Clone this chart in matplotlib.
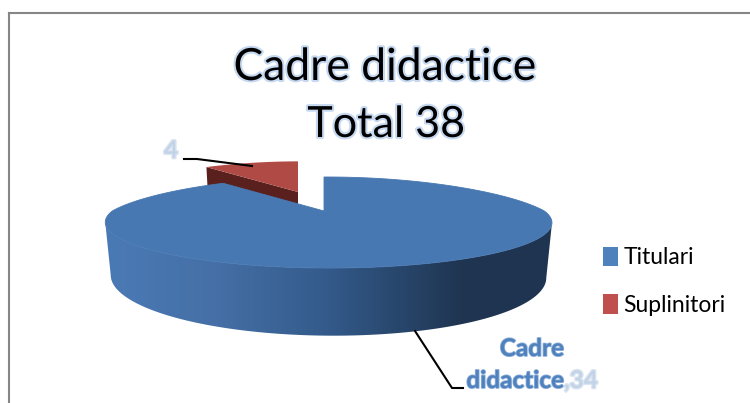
import numpy as np
import matplotlib as mpl
mpl.use('Agg')
import matplotlib.pyplot as plt
import matplotlib.patheffects as pe
from matplotlib.patches import Polygon, Patch
from matplotlib.colors import LinearSegmentedColormap

categories = ['Titulari', 'Suplinitori']
values = [34, 4]
title_lines = ['Cadre didactice', 'Total 38']
series_name = 'Cadre didactice'

plt.rcParams['font.family'] = ['Lato', 'DejaVu Sans']

# pie seen in perspective, everything in image pixels
cx, cy = 324, 211
rx, ry = 216, 42.6
k_back, k_side = 0.253, 0.02
back_squeeze = 0.1
depth = 50.5
taper = 0.025


def project(theta, r=1.0, z=0.0, dx=0, dy=0):
    # theta clockwise from 12 o'clock, z goes from 0 (top face) to 1 (bottom)
    u = r * np.sin(theta)
    v = r * np.cos(theta)
    s = 1 / (1 + k_back * v - k_side * u)
    squeeze = 1 - back_squeeze * np.clip(v, 0, None)
    x = cx + dx + rx * u * s * squeeze * (1 - taper * z)
    y = cy + dy - ry * v * s + depth * z * s
    return np.column_stack([x, y])


def rim(a, b, z=0.0, dx=0, dy=0, r=1.0):
    return project(np.linspace(a, b, 200), r, z, dx, dy)


fig = plt.figure(figsize=(7.5, 4.03), dpi=100)
ax = fig.add_axes([0, 0, 1, 1])

angles = np.concatenate([[0], np.cumsum(values) / np.sum(values) * 2 * np.pi])
blue_a, blue_b = angles[0], angles[1]
red_a, red_b = angles[1], angles[2]
red_dx, red_dy = -26, -19
red_r = 0.88

# exploded slice first, the big one goes over it
apex = project(np.array([0.0]), 0.0, 0, red_dx, red_dy)
apex_low = project(np.array([0.0]), 0.0, 0.6, red_dx, red_dy)
rim_start = project(np.array([red_a]), red_r, 0, red_dx, red_dy)
rim_low = project(np.array([red_a]), red_r, 0.6, red_dx, red_dy)
ax.add_patch(Polygon(np.vstack([apex, rim_start, rim_low, apex_low]), closed=True,
                     fc='#5a201d', ec='none', zorder=2))
ax.add_patch(Polygon(np.vstack([apex, rim(red_a, red_b, 0, red_dx, red_dy, red_r)]), closed=True,
                     fc='#b04a45', ec='none', zorder=3))

# outer wall of big slice with horizontal shading
side_t = np.arccos(-k_back)
wall = np.vstack([rim(side_t, 2 * np.pi - side_t, 0), rim(side_t, 2 * np.pi - side_t, 1)[::-1]])
wall_patch = Polygon(wall, closed=True, fc='none', ec='none', zorder=4)
ax.add_patch(wall_patch)
shade = LinearSegmentedColormap.from_list('shade', [(0, '#4a7ab5'), (0.25, '#456fa6'), (0.5, '#335a8a'),
                                                    (0.8, '#1f3551'), (1, '#1f3450')])
im = ax.imshow(np.linspace(0, 1, 256).reshape(1, -1), cmap=shade, aspect='auto',
               extent=[105, 552, 345, 215], zorder=4)
im.set_clip_path(wall_patch)

# cut face on the notch, then the top face
notch = np.vstack([project(np.array([0.0]), 0.0), project(np.array([0.0]), 1.0),
                   project(np.array([0.0]), 1.0, 0.1), project(np.array([0.0]), 0.0, 0.3)])
notch[2:, 0] += 3
ax.add_patch(Polygon(notch, closed=True, fc='#2a4a70', ec='none', zorder=4))
ax.add_patch(Polygon(np.vstack([project(np.array([0.0]), 0.0), rim(blue_a, blue_b)]), closed=True,
                     fc='#4878b2', ec='#4878b2', lw=0.6, zorder=5))

# chart frame
ax.plot([8.5, 750], [13, 13], color='#868686', lw=1.5, zorder=1)
ax.plot([8.5, 8.5], [13, 403], color='#868686', lw=1.5, zorder=1)

glow = [pe.withStroke(linewidth=3, foreground='#c6d9f0')]
ax.text(385, 80, title_lines[0], ha='center', va='baseline', fontsize=32, color='black', path_effects=glow, zorder=6)
ax.text(386, 137, title_lines[1], ha='center', va='baseline', fontsize=31, color='black', path_effects=glow, zorder=6)

# data labels with leader lines
ax.plot([184, 197, 252], [159, 159, 166], color='black', lw=1.5, zorder=6)
ax.plot([415, 452, 463], [331, 388, 388], color='black', lw=1.5, zorder=6)
pale = [pe.withStroke(linewidth=2, foreground='#dbe5f1')]
blue_edge = [pe.withStroke(linewidth=1.2, foreground='#8fb0da')]
ax.text(171, 158, str(values[1]), ha='center', va='baseline', fontsize=17.5, fontweight='bold',
        color='#c3d3e7', path_effects=pale, zorder=6)
ax.text(532, 356, series_name.split()[0], ha='center', va='baseline', fontsize=17.5, fontweight='bold',
        color='#4f81bd', path_effects=blue_edge, zorder=6)
ax.text(564, 388, series_name.split()[1], ha='right', va='baseline', fontsize=17.5, fontweight='bold',
        color='#4f81bd', path_effects=blue_edge, zorder=6)
ax.text(564, 388, ',' + str(values[0]), ha='left', va='baseline', fontsize=17.5, fontweight='bold',
        color='#c3d3e7', path_effects=pale, zorder=6)

handles = [Patch(fc='#4f81bd', label=categories[0]), Patch(fc='#c0504d', label=categories[1])]
ax.legend(handles=handles, loc='upper left', bbox_to_anchor=(0.804, 0.388), frameon=False, fontsize=16.5,
          handlelength=0.64, handleheight=0.95, handletextpad=0.26, labelspacing=1.13, borderpad=0, borderaxespad=0)

ax.set_xlim(0, 750)
ax.set_ylim(403, 0)
ax.axis('off')
fig.savefig('out.png', dpi=100)
